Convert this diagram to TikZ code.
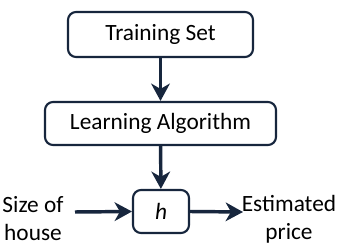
\documentclass[tikz,border=0pt]{standalone}
\usepackage{fontspec}
\setmainfont{Carlito}
\usetikzlibrary{arrows.meta}
\definecolor{navy}{HTML}{17263D}
\begin{document}
\begin{tikzpicture}[x=0.75pt,y=-0.75pt,
  box/.style={draw=navy,line width=1.6pt,rounded corners=6pt,fill=white,inner sep=0pt},
  conn/.style={draw=navy,line width=2.6pt,-{Stealth[length=13pt,width=14pt,inset=4pt]}},
  lbl/.style={font=\fontsize{17.5}{21}\selectfont,align=center,inner sep=0pt}]
\useasboundingbox (0,0) rectangle (339,245);
\node[box,minimum width=185*0.75pt,minimum height=45*0.75pt,font=\fontsize{17.5}{19}\selectfont] (ts) at (160.5,34.5) {Training Set};
\node[box,minimum width=231*0.75pt,minimum height=43*0.75pt,font=\fontsize{17.5}{19}\selectfont] (la) at (160.5,123.5) {Learning Algorithm};
\node[box,minimum width=56*0.75pt,minimum height=43*0.75pt,font=\fontsize{17.5}{19}\selectfont\itshape] (h) at (161,211.5) {h};
\node[lbl] (in) at (33,219) {Size of\\house};
\node[lbl] (out) at (289,219) {Estimated\\price};
\coordinate (ins) at (75,212);
\coordinate (oute) at (243,212);
\draw[conn] (ts) -- (la);
\draw[conn] (la) -- (h);
\draw[conn] (ins) -- (h.west);
\draw[conn] (h.east) -- (oute);
\end{tikzpicture}
\end{document}
